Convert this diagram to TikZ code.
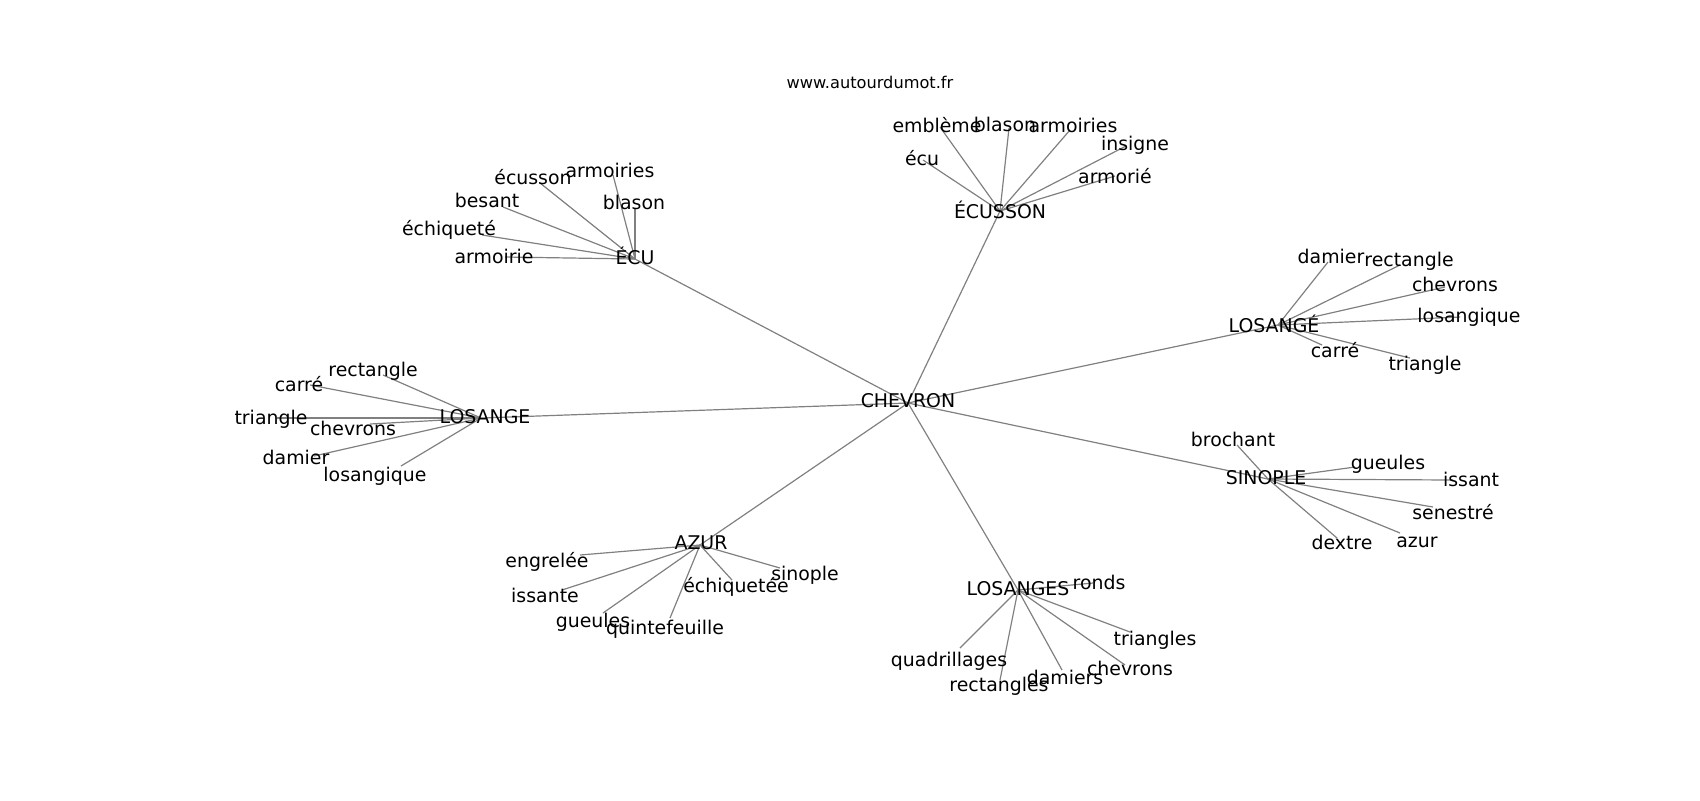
\documentclass[tikz,border=0pt]{standalone}
\usepackage{fontspec}
\setmainfont{DejaVu Sans}
\begin{document}
\begin{tikzpicture}[x=0.5pt,y=-0.5pt,
  edge/.style={draw=black!50, line width=0.6pt},
  lab/.style={inner sep=0pt, outer sep=0pt, font=\fontsize{9.45}{11}\selectfont, text height=0.76em, text depth=0.236em, anchor=center, yshift=-0.9pt},
  hub/.style={lab, yshift=0.5pt},
  ttl/.style={inner sep=0pt, font=\fontsize{8.1}{10}\selectfont, anchor=center}]
\useasboundingbox (0,0) rectangle (1700,800);
% graph points
\coordinate (chev) at (908,403);
\coordinate (ecu) at (635,259);
\coordinate (ecs) at (1000,211);
\coordinate (lsa) at (1278,325);
\coordinate (lse) at (481,418);
\coordinate (sin) at (1268,479);
\coordinate (azu) at (700,545);
\coordinate (lss) at (1018,590);
% ECU leaves
\coordinate (e1) at (613,175);
\coordinate (e2) at (540,183);
\coordinate (e3) at (503,207);
\coordinate (e4) at (635,208);
\coordinate (e5) at (482,235);
\coordinate (e6) at (505,257);
% ECUSSON leaves
\coordinate (s1) at (940,127);
\coordinate (s2) at (1009,128);
\coordinate (s3) at (1070,130);
\coordinate (s4) at (1126,146);
\coordinate (s5) at (923,160);
\coordinate (s6) at (1115,176);
% LOSANGE accent leaves
\coordinate (a1) at (1328,262);
\coordinate (a2) at (1400,265);
\coordinate (a3) at (1445,287);
\coordinate (a4) at (1460,317);
\coordinate (a5) at (1322,345);
\coordinate (a6) at (1410,358);
% LOSANGE leaves
\coordinate (l1) at (383,375);
\coordinate (l2) at (310,385);
\coordinate (l3) at (277,418);
\coordinate (l4) at (370,424);
\coordinate (l5) at (314,456);
\coordinate (l6) at (401,466);
% SINOPLE leaves
\coordinate (n1) at (1237,445);
\coordinate (n2) at (1355,467);
\coordinate (n3) at (1453,480);
\coordinate (n4) at (1433,507);
\coordinate (n5) at (1400,533);
\coordinate (n6) at (1337,538);
% AZUR leaves
\coordinate (z1) at (580,555);
\coordinate (z2) at (562,590);
\coordinate (z3) at (603,613);
\coordinate (z4) at (670,618);
\coordinate (z5) at (732,580);
\coordinate (z6) at (780,568);
% LOSANGES leaves
\coordinate (g1) at (1093,583);
\coordinate (g2) at (1130,632);
\coordinate (g3) at (1125,665);
\coordinate (g4) at (1062,670);
\coordinate (g5) at (960,648);
\coordinate (g6) at (1000,680);
% edges
\foreach \h in {ecu,ecs,lsa,lse,sin,azu,lss} \draw[edge] (chev) -- (\h);
\foreach \l in {e1,e2,e3,e4,e5,e6} \draw[edge] (ecu) -- (\l);
\foreach \l in {s1,s2,s3,s4,s5,s6} \draw[edge] (ecs) -- (\l);
\foreach \l in {a1,a2,a3,a4,a5,a6} \draw[edge] (lsa) -- (\l);
\foreach \l in {l1,l2,l3,l4,l5,l6} \draw[edge] (lse) -- (\l);
\foreach \l in {n1,n2,n3,n4,n5,n6} \draw[edge] (sin) -- (\l);
\foreach \l in {z1,z2,z3,z4,z5,z6} \draw[edge] (azu) -- (\l);
\foreach \l in {g1,g2,g3,g4,g5,g6} \draw[edge] (lss) -- (\l);
% title
\node[ttl] (title) at (870,82) {www.autourdumot.fr};
% hub labels
\node[hub] (tchev) at (908,401) {CHEVRON};
\node[hub] (tecu) at (635,258) {ÉCU};
\node[hub] (tecs) at (1000,212) {ÉCUSSON};
\node[hub] (tlsa) at (1274,326) {LOSANGÉ};
\node[hub] (tlse) at (485,417) {LOSANGE};
\node[hub] (tsin) at (1266,478) {SINOPLE};
\node[hub] (tazu) at (701,543) {AZUR};
\node[hub] (tlss) at (1018,589) {LOSANGES};
% ECU leaf labels
\node[lab] (te1) at (610,170) {armoiries};
\node[lab] (te2) at (533,177) {écusson};
\node[lab] (te3) at (487,200) {besant};
\node[lab] (te4) at (634,202) {blason};
\node[lab] (te5) at (449,228) {échiqueté};
\node[lab] (te6) at (494,256) {armoirie};
% ECUSSON leaf labels
\node[lab] (ts1) at (937,125) {emblème};
\node[lab] (ts2) at (1005,124) {blason};
\node[lab] (ts3) at (1073,125) {armoiries};
\node[lab] (ts4) at (1135,143) {insigne};
\node[lab] (ts5) at (922,158) {écu};
\node[lab] (ts6) at (1115,176) {armorié};
% LOSANGE accent leaf labels
\node[lab] (ta1) at (1331,256) {damier};
\node[lab] (ta2) at (1409,259) {rectangle};
\node[lab] (ta3) at (1455,284) {chevrons};
\node[lab] (ta4) at (1469,315) {losangique};
\node[lab] (ta5) at (1335,350) {carré};
\node[lab] (ta6) at (1425,363) {triangle};
% LOSANGE leaf labels
\node[lab] (tl1) at (373,369) {rectangle};
\node[lab] (tl2) at (299,384) {carré};
\node[lab] (tl3) at (271,417) {triangle};
\node[lab] (tl4) at (353,428) {chevrons};
\node[lab] (tl5) at (296,457) {damier};
\node[lab] (tl6) at (375,474) {losangique};
% SINOPLE leaf labels
\node[lab] (tn1) at (1233,439) {brochant};
\node[lab] (tn2) at (1388,462) {gueules};
\node[lab] (tn3) at (1471,479) {issant};
\node[lab] (tn4) at (1453,512) {senestré};
\node[lab] (tn5) at (1417,540) {azur};
\node[lab] (tn6) at (1342,542) {dextre};
% AZUR leaf labels
\node[lab] (tz1) at (547,560) {engrelée};
\node[lab] (tz2) at (545,595) {issante};
\node[lab] (tz3) at (593,620) {gueules};
\node[lab] (tz4) at (665,627) {quintefeuille};
\node[lab] (tz5) at (736,585) {échiquetée};
\node[lab] (tz6) at (805,573) {sinople};
% LOSANGES leaf labels
\node[lab] (tg1) at (1099,582) {ronds};
\node[lab] (tg2) at (1155,638) {triangles};
\node[lab] (tg3) at (1130,668) {chevrons};
\node[lab] (tg4) at (1065,677) {damiers};
\node[lab] (tg5) at (949,659) {quadrillages};
\node[lab] (tg6) at (999,684) {rectangles};
\end{tikzpicture}
\end{document}
